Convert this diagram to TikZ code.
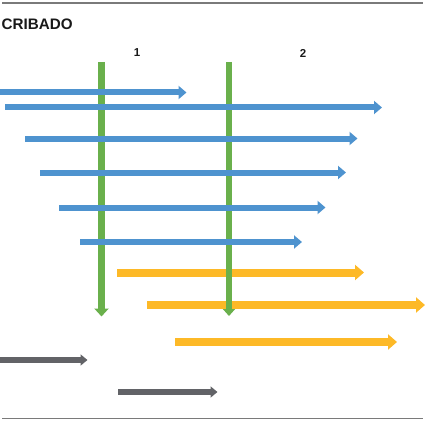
\documentclass[tikz,border=0pt]{standalone}
\usepackage{fontspec}
\setmainfont{Liberation Sans}
\usetikzlibrary{arrows.meta}
\definecolor{bluearr}{HTML}{4E93CF}
\definecolor{greenarr}{HTML}{6AB04C}
\definecolor{yellowarr}{HTML}{FDB927}
\definecolor{grayarr}{HTML}{626367}
\definecolor{rulegray}{HTML}{7A7A7A}
\tikzset{
  bluea/.style={draw=bluearr, line width=6pt, -{Triangle[length=8pt,width=13pt]}},
  yellowa/.style={draw=yellowarr, line width=8pt, -{Triangle[length=9pt,width=15pt]}},
  graya/.style={draw=grayarr, line width=5.5pt, -{Triangle[length=7pt,width=11pt]}},
  greena/.style={draw=greenarr, line width=7pt, -{Triangle[length=8pt,width=14pt]}},
  rulel/.style={draw=rulegray, line width=1.6pt},
  lbl/.style={font=\bfseries, text=black!90, inner sep=0pt}
}
\begin{document}
\begin{tikzpicture}[x=1pt,y=-1pt]
\useasboundingbox (0,0) rectangle (428,425);
% rules
\coordinate (t1) at (2,3); \coordinate (t2) at (423,3);
\coordinate (b1) at (2,418.5); \coordinate (b2) at (423,418.5);
\draw[rulel] (t1) -- (t2);
\draw[rulel] (b1) -- (b2);
% labels
\node[lbl, font=\fontsize{15.2}{18}\selectfont\bfseries, anchor=west] (title) at (1.5,24.5) {CRIBADO};
\node[lbl, font=\fontsize{11.5}{13}\selectfont\bfseries] (n1) at (137,53) {1};
\node[lbl, font=\fontsize{11.5}{13}\selectfont\bfseries] (n2) at (303,53) {2};
% yellow (behind green)
\coordinate (y1s) at (117,272.5); \coordinate (y1e) at (364,272.5);
\coordinate (y2s) at (147,305); \coordinate (y2e) at (425,305);
\coordinate (y3s) at (175,342); \coordinate (y3e) at (397,342);
\draw[yellowa] (y1s) -- (y1e);
\draw[yellowa] (y2s) -- (y2e);
\draw[yellowa] (y3s) -- (y3e);
% green
\coordinate (g1s) at (101.5,62); \coordinate (g1e) at (101.5,316.5);
\coordinate (g2s) at (229,62); \coordinate (g2e) at (229,316);
\draw[greena] (g1s) -- (g1e);
\draw[greena, line width=6.5pt, -{Triangle[length=7pt,width=12pt]}] (g2s) -- (g2e);
% blue
\coordinate (a1s) at (0,92.5); \coordinate (a1e) at (186.5,92.5);
\coordinate (a2s) at (5,107.5); \coordinate (a2e) at (382,107.5);
\coordinate (a3s) at (25,138.5); \coordinate (a3e) at (357.5,138.5);
\coordinate (a4s) at (40,172.5); \coordinate (a4e) at (346,172.5);
\coordinate (a5s) at (59,207.5); \coordinate (a5e) at (325.5,207.5);
\coordinate (a6s) at (80,242); \coordinate (a6e) at (302,242);
\foreach \i in {1,...,6} {\draw[bluea] (a\i s) -- (a\i e);}
% gray
\coordinate (k1s) at (0,360); \coordinate (k1e) at (87.5,360);
\coordinate (k2s) at (118,392); \coordinate (k2e) at (217.5,392);
\draw[graya] (k1s) -- (k1e);
\draw[graya] (k2s) -- (k2e);
\end{tikzpicture}
\end{document}
